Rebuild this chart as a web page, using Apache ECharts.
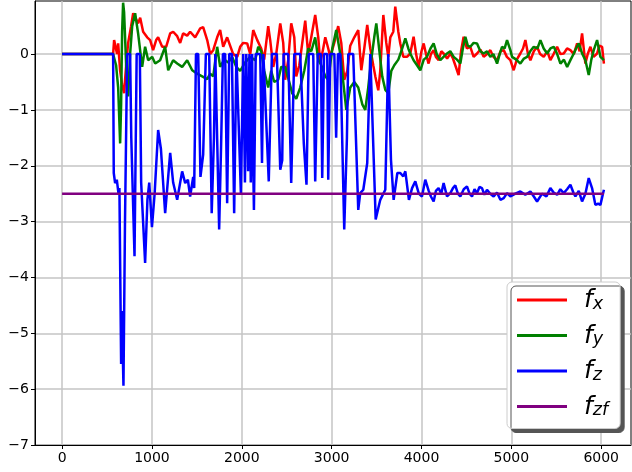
<!DOCTYPE html>
<html>
<head>
<meta charset="utf-8">
<script src="https://cdn.jsdelivr.net/npm/echarts@6/dist/echarts.min.js"></script>
<style>
html,body{margin:0;padding:0;background:#fff;}
#c{width:632px;height:472px;}
</style>
</head>
<body>
<div id="c"></div>
<script>
const xTicks = [0, 1000, 2000, 3000, 4000, 5000, 6000];
const yTicks = [-7, -6, -5, -4, -3, -2, -1, 0];
const seriesNames = ['fx', 'fy', 'fz', 'fzf'];
const subscripts = ['x', 'y', 'z', 'zf'];

const fx = [[0,0],[568,0],[579,0.25],[601,0.22],[612,0.0],[624,0.19],[646,-0.3],[668,-0.55],[690,-0.70],[713,-0.2],[735,0.2],[768,0.5],[791,0.73],[813,0.75],[846,0.55],[869,0.65],[902,0.4],[947,0.3],[980,0.25],[1013,0.07],[1047,0.25],[1069,0.3],[1114,0.13],[1158,0.13],[1203,0.37],[1236,0.4],[1281,0.32],[1314,0.2],[1347,0.37],[1392,0.33],[1425,0.4],[1481,0.3],[1537,0.46],[1570,0.48],[1615,0.25],[1648,0.0],[1682,0.07],[1726,0.3],[1759,0.43],[1793,0.13],[1837,0.3],[1904,0.0],[1949,-0.05],[1982,0.13],[2016,0.2],[2060,0.19],[2094,0.0],[2127,0.43],[2172,0.25],[2216,0.1],[2249,-0.1],[2294,0.5],[2316,0.25],[2350,-0.23],[2383,0.0],[2428,0.55],[2461,0.2],[2483,-0.46],[2517,-0.1],[2550,0.55],[2584,0.3],[2606,-0.4],[2640,-0.2],[2673,0.2],[2706,0.6],[2739,0.0],[2773,0.3],[2817,0.7],[2851,0.3],[2873,-0.17],[2906,0.1],[2929,0.3],[2962,0.1],[2984,-0.05],[3029,0.2],[3073,0.5],[3107,0.2],[3140,-0.46],[3174,-0.3],[3207,0.15],[3252,0.3],[3296,0.43],[3330,-0.29],[3363,0.1],[3396,0.52],[3430,0.1],[3463,-0.2],[3486,-0.4],[3519,-0.65],[3541,-0.3],[3575,0.7],[3608,0.2],[3630,-0.05],[3653,0.3],[3686,0.4],[3708,0.85],[3742,0.4],[3764,0.19],[3797,-0.05],[3838,-0.05],[3875,0.01],[3912,0.31],[3940,0.0],[3968,-0.23],[4000,0.05],[4024,0.19],[4050,0.0],[4079,-0.17],[4105,0.0],[4135,0.07],[4160,-0.05],[4191,-0.11],[4220,0.05],[4246,0.01],[4285,-0.08],[4321,0.01],[4350,-0.08],[4376,-0.2],[4413,-0.375],[4440,0.05],[4469,0.31],[4505,0.1],[4543,0.13],[4580,-0.05],[4618,0.01],[4655,0.08],[4692,-0.05],[4730,0.0],[4766,0.07],[4800,-0.05],[4841,-0.11],[4880,0.05],[4915,0.07],[4950,-0.05],[4989,-0.11],[5026,-0.29],[5060,-0.1],[5100,0.01],[5130,0.1],[5156,0.25],[5185,0.0],[5212,-0.11],[5250,0.05],[5286,0.13],[5320,0.0],[5360,-0.05],[5400,0.05],[5434,-0.11],[5470,0.0],[5509,0.13],[5545,0.0],[5583,0.01],[5620,0.1],[5657,0.07],[5695,0.0],[5732,0.19],[5760,0.05],[5787,0.37],[5824,-0.17],[5850,0.0],[5880,0.13],[5915,-0.05],[5954,0.01],[5980,0.15],[6010,0.13],[6030,-0.17]];

const fy = [[0,0],[568,0],[579,0.0],[601,-0.2],[624,-0.6],[646,-1.6],[657,-0.9],[668,0.4],[679,0.92],[690,0.75],[713,-0.2],[735,-0.76],[757,0.0],[780,0.5],[813,0.73],[846,0.37],[891,-0.23],[924,0.13],[958,-0.11],[1002,-0.05],[1036,-0.17],[1091,-0.11],[1147,0.13],[1181,-0.29],[1236,-0.11],[1281,-0.17],[1336,-0.23],[1392,-0.11],[1448,-0.29],[1503,-0.35],[1559,-0.4],[1615,-0.45],[1648,-0.35],[1682,-0.4],[1726,0.13],[1759,-0.23],[1804,-0.1],[1849,-0.15],[1893,-0.05],[1938,-0.23],[1982,-0.3],[2038,-0.15],[2094,-0.05],[2149,-0.11],[2183,0.13],[2216,0.05],[2249,-0.3],[2294,-0.6],[2327,-0.3],[2361,-0.5],[2405,-0.46],[2439,-0.23],[2483,-0.23],[2528,-0.5],[2561,-0.7],[2606,-0.8],[2650,-0.6],[2695,-0.3],[2739,0.1],[2773,0.05],[2817,0.3],[2851,-0.1],[2884,-0.2],[2929,-0.4],[2962,-0.46],[3007,0.1],[3051,0.43],[3096,0.0],[3129,-0.5],[3163,-1.0],[3207,-0.6],[3252,-0.5],[3296,-0.6],[3341,-0.9],[3374,-1.0],[3407,-0.6],[3441,-0.1],[3474,0.3],[3497,0.55],[3530,0.07],[3563,-0.4],[3597,-0.64],[3630,-0.7],[3664,-0.3],[3697,-0.2],[3742,-0.1],[3775,0.05],[3820,0.28],[3853,0.1],[3875,0.01],[3912,-0.11],[3950,-0.2],[3987,-0.29],[4025,-0.1],[4061,-0.05],[4100,0.1],[4135,0.19],[4170,0.0],[4209,-0.11],[4245,-0.05],[4284,0.01],[4320,0.05],[4358,-0.05],[4395,-0.1],[4432,-0.17],[4460,0.1],[4488,0.31],[4515,0.15],[4543,0.13],[4580,0.2],[4618,0.19],[4655,0.05],[4692,0.01],[4730,0.05],[4766,-0.05],[4800,0.0],[4841,-0.17],[4870,0.0],[4896,0.13],[4925,0.1],[4952,0.25],[4989,0.07],[5008,-0.05],[5055,-0.1],[5100,-0.17],[5140,-0.08],[5175,-0.05],[5210,0.05],[5249,0.13],[5290,0.1],[5323,0.25],[5360,0.1],[5398,0.01],[5435,0.1],[5472,0.13],[5510,0.0],[5546,-0.17],[5585,-0.1],[5621,-0.23],[5660,-0.1],[5695,0.01],[5720,0.1],[5750,0.19],[5790,0.0],[5824,-0.11],[5861,-0.375],[5890,-0.1],[5917,0.07],[5954,0.25],[5991,-0.05],[6030,-0.11]];

const fz = [[0,0],[568,0],[575,-2.13],[590,-2.31],[609,-2.25],[627,-2.49],[638,-2.4],[646,-3.74],[657,-5.55],[665,-4.6],[683,-5.94],[700,-3.0],[716,-1.0],[724,0],[757,0],[770,-1.5],[806,-3.62],[830,0],[865,0],[880,-2.3],[924,-3.74],[950,-2.6],[970,-2.3],[1000,-3.1],[1030,-2.5],[1069,-1.36],[1100,-1.7],[1147,-2.85],[1203,-1.77],[1236,-2.3],[1281,-2.61],[1336,-2.1],[1370,-2.31],[1400,-2.25],[1425,-2.55],[1459,-2.2],[1470,-2.4],[1490,0],[1515,0],[1540,-2.2],[1570,-1.8],[1600,0],[1637,0],[1665,-2.85],[1690,-1.5],[1705,0],[1726,0],[1748,-3.14],[1770,-1.6],[1790,0],[1815,0],[1837,-2.67],[1860,0],[1890,0],[1915,-2.85],[1940,0],[1955,0],[1990,-2.5],[2016,0],[2035,-2.3],[2050,0],[2070,-2.1],[2085,0],[2100,-2.3],[2115,0],[2127,-2.0],[2135,-2.79],[2155,0],[2205,0],[2225,-1.95],[2240,0],[2260,0],[2300,-2.28],[2335,0],[2390,0],[2428,-2.07],[2450,-1.9],[2465,0],[2517,0],[2550,-2.31],[2584,0],[2650,0],[2690,-1.6],[2720,-2.34],[2745,0],[2795,0],[2817,-2.28],[2845,0],[2880,0],[2895,-2.22],[2915,0],[2951,0],[2962,-2.25],[2984,0],[3030,0],[3050,-1.5],[3070,0],[3096,0],[3140,-3.14],[3170,-1.5],[3185,0],[3240,0],[3296,-2.79],[3318,-2.49],[3352,-2.43],[3396,-1.95],[3430,0],[3452,0],[3490,-2.96],[3541,-2.61],[3597,-2.43],[3630,0],[3645,-1.0],[3660,-1.89],[3690,-2.61],[3731,-2.13],[3764,-2.13],[3797,-2.19],[3820,-2.10],[3860,-2.61],[3895,-2.4],[3931,-2.28],[3970,-2.5],[4005,-2.55],[4042,-2.25],[4080,-2.45],[4105,-2.55],[4135,-2.64],[4160,-2.45],[4190,-2.4],[4220,-2.5],[4246,-2.31],[4284,-2.55],[4321,-2.49],[4350,-2.4],[4376,-2.35],[4405,-2.5],[4432,-2.55],[4470,-2.42],[4506,-2.37],[4535,-2.5],[4562,-2.55],[4590,-2.42],[4618,-2.49],[4645,-2.38],[4673,-2.4],[4700,-2.52],[4729,-2.43],[4765,-2.5],[4803,-2.55],[4840,-2.48],[4878,-2.61],[4915,-2.58],[4952,-2.49],[4989,-2.55],[5045,-2.5],[5100,-2.46],[5155,-2.52],[5212,-2.46],[5250,-2.55],[5286,-2.64],[5342,-2.5],[5390,-2.55],[5434,-2.40],[5470,-2.48],[5509,-2.52],[5545,-2.42],[5583,-2.49],[5620,-2.42],[5657,-2.34],[5690,-2.48],[5713,-2.55],[5750,-2.45],[5787,-2.64],[5824,-2.5],[5861,-2.22],[5898,-2.4],[5935,-2.7],[5965,-2.68],[5991,-2.7],[6030,-2.43]];

const fzf = [[0,-2.5],[6030,-2.5]];

const colors = ['#ff0000', '#008000', '#0000ff', '#800080'];
const datasets = [fx, fy, fz, fzf];

const chart = echarts.init(document.getElementById('c'), null, {renderer: 'canvas'});
const fmtMinus = v => String(v).replace('-', '\u2212');

const option = {
  animation: false,
  backgroundColor: '#ffffff',
  grid: {left: 35, right: 1, top: 1, bottom: 27, show: true, borderColor: '#000', borderWidth: 1, backgroundColor: 'transparent'},
  xAxis: {
    type: 'value', min: -301.5, max: 6331.5,
    axisLine: {onZero: false, lineStyle: {color: '#000', width: 1}},
    axisTick: {show: true, length: 4, customValues: xTicks, lineStyle: {color: '#000', width: 1}},
    axisLabel: {customValues: xTicks, color: '#000', fontSize: 14, fontFamily: 'DejaVu Sans', margin: 6, formatter: fmtMinus},
    splitLine: {show: true, lineStyle: {color: '#c4c4c4', width: 1.5}}
  },
  yAxis: {
    type: 'value', min: -7, max: 0.95,
    axisLine: {onZero: false, lineStyle: {color: '#000', width: 1}},
    axisTick: {show: true, length: 4, customValues: yTicks, lineStyle: {color: '#000', width: 1}},
    axisLabel: {customValues: yTicks, color: '#000', fontSize: 14, fontFamily: 'DejaVu Sans', margin: 6, formatter: fmtMinus},
    splitLine: {show: true, lineStyle: {color: '#c4c4c4', width: 1.5}}
  },
  legend: {
    orient: 'vertical', left: 507, top: 282,
    padding: [6, 12, 9, 10],
    itemGap: 10.5, itemWidth: 50, itemHeight: 3,
    icon: 'rect',
    backgroundColor: '#ffffff', borderColor: '#cccccc', borderWidth: 1, borderRadius: 5,
    shadowColor: '#555555', shadowBlur: 0, shadowOffsetX: 4, shadowOffsetY: 4,
    data: seriesNames,
    formatter: function (name) {
      const i = seriesNames.indexOf(name);
      return '{f|f}{s|' + subscripts[i] + '}';
    },
    textStyle: {
      color: '#000',
      rich: {
        f: {fontFamily: 'DejaVu Sans', fontStyle: 'italic', fontSize: 25, lineHeight: 26, padding: [0, 0, 0, 12], verticalAlign: 'bottom'},
        s: {fontFamily: 'DejaVu Sans', fontStyle: 'italic', fontSize: 17.5, lineHeight: 26, verticalAlign: 'bottom'}
      }
    }
  },
  series: datasets.map((d, i) => ({
    name: seriesNames[i],
    type: 'line',
    data: d,
    symbol: 'none',
    showSymbol: false,
    clip: true,
    color: colors[i],
    lineStyle: {color: colors[i], width: 2.5},
    z: 2 + i
  }))
};
chart.setOption(option);
</script>
</body>
</html>
